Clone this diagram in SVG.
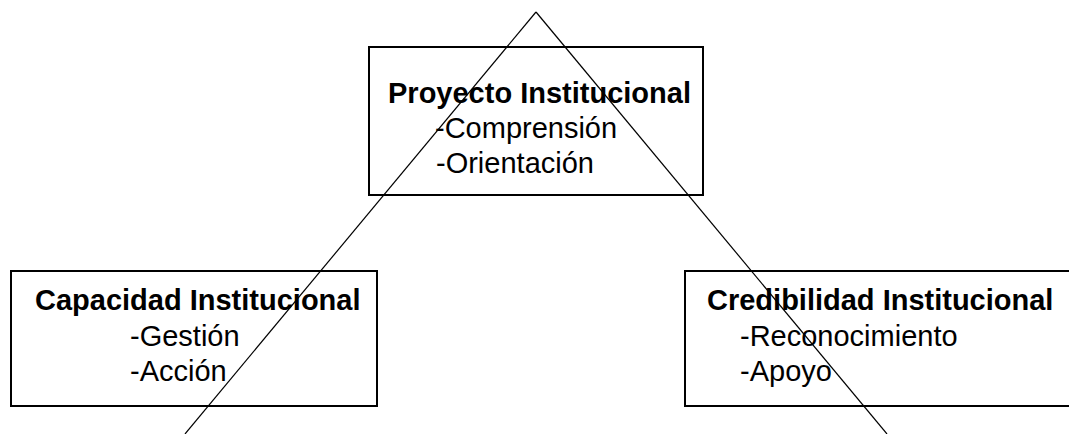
<svg xmlns="http://www.w3.org/2000/svg" width="1069" height="434" viewBox="0 0 1069 434">
<style>
.box{fill:#fff;stroke:#000;stroke-width:2}
.t{font-family:"Liberation Sans",Arial,sans-serif;font-size:29px;fill:#000}
.b{font-weight:bold}
.ln{stroke:#000;stroke-width:1.2;fill:none}
</style>
<rect width="1069" height="434" fill="#fff"/>
<g id="node-proyecto">
<rect class="box" x="369" y="47" width="334" height="148"/>
<text class="t b" x="388" y="103">Proyecto Institucional</text>
<text class="t" x="435" y="138">-Comprensión</text>
<text class="t" x="436" y="173">-Orientación</text>
</g>
<g id="node-capacidad">
<rect class="box" x="11" y="271" width="366" height="135"/>
<text class="t b" x="35" y="310">Capacidad Institucional</text>
<text class="t" x="130" y="346">-Gestión</text>
<text class="t" x="130" y="381">-Acción</text>
</g>
<g id="node-credibilidad">
<rect class="box" x="685" y="271" width="400" height="135"/>
<text class="t b" x="707" y="310">Credibilidad Institucional</text>
<text class="t" x="740" y="346">-Reconocimiento</text>
<text class="t" x="740" y="381">-Apoyo</text>
</g>
<g id="connectors">
<line class="ln" x1="536" y1="12" x2="185" y2="434"/>
<line class="ln" x1="536" y1="12" x2="887" y2="434"/>
</g>
</svg>
